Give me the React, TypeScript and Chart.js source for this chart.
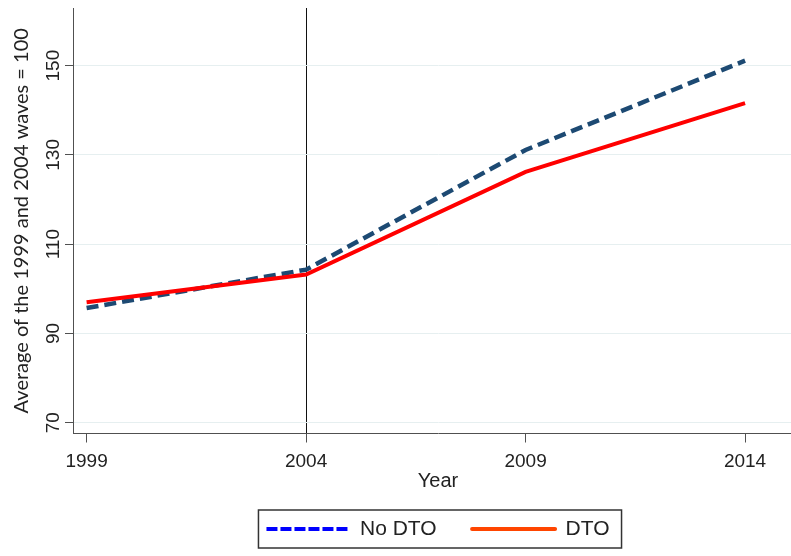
import React, { useEffect, useRef } from 'react';
import { Chart, registerables } from 'chart.js';

Chart.register(...registerables);

const years = [1999, 2004, 2009, 2014];
const noDto = [95.7, 104.3, 131.1, 151.1];
const dto = [97.0, 103.2, 126.2, 141.6];
const yTicks = [70, 90, 110, 130, 150];
const xTicks = [1999, 2004, 2009, 2014];
const seriesLabels = ['No DTO', 'DTO'];
const referenceYear = 2004;
const yTitle = 'Average of the 1999 and 2004 waves = 100';
const xTitle = 'Year';

const legendFrame = {
  id: 'legendFrame',
  afterDraw(chart: any) {
    const hb = chart.legend && chart.legend.legendHitBoxes;
    if (!hb || !hb.length) return;
    const ctx = chart.ctx;
    const l = Math.min(...hb.map((h: any) => h.left)) - 8;
    const r = Math.max(...hb.map((h: any) => h.left + h.width)) + 12;
    const t = Math.min(...hb.map((h: any) => h.top)) - 8.5;
    const b = Math.max(...hb.map((h: any) => h.top + h.height)) + 8.5;
    ctx.save();
    ctx.strokeStyle = '#333';
    ctx.lineWidth = 1.5;
    ctx.setLineDash([]);
    ctx.strokeRect(l, t, r - l, b - t);
    ctx.restore();
  },
};

export default function App() {
  const ref = useRef<HTMLCanvasElement | null>(null);

  useEffect(() => {
    if (!ref.current) return;
    const axisColor = '#505050';
    const textColor = '#222';
    const chart = new Chart(ref.current, {
      type: 'line',
      data: {
        datasets: [
          {
            label: seriesLabels[0],
            data: years.map((x, i) => ({ x, y: noDto[i] })),
            borderColor: '#1d4a73',
            borderWidth: 4.5,
            borderDash: [12, 6],
            pointRadius: 0,
            tension: 0,
            fill: false,
            order: 1,
          },
          {
            label: seriesLabels[1],
            data: years.map((x, i) => ({ x, y: dto[i] })),
            borderColor: '#ff0000',
            borderWidth: 4,
            pointRadius: 0,
            tension: 0,
            fill: false,
            order: 0,
          },
        ],
      },
      options: {
        animation: false,
        responsive: true,
        maintainAspectRatio: false,
        layout: { padding: { top: 8, bottom: 6.5, left: 0, right: 0 } },
        font: { family: 'Liberation Sans, Arial, sans-serif' } as any,
        plugins: {
          tooltip: { enabled: false },
          legend: {
            position: 'bottom',
            fullSize: false,
            align: 'center',
            labels: {
              usePointStyle: true,
              pointStyleWidth: 83,
              boxHeight: 21,
              padding: 35.5,
              color: textColor,
              font: { size: 21, family: 'Liberation Sans, Arial, sans-serif' },
              generateLabels: () => [
                {
                  text: seriesLabels[0],
                  strokeStyle: '#0000ff',
                  fillStyle: 'rgba(0,0,0,0)',
                  lineWidth: 4,
                  lineDash: [11, 3],
                  lineCap: 'butt',
                  pointStyle: 'line',
                  hidden: false,
                  datasetIndex: 0,
                  fontColor: textColor,
                } as any,
                {
                  text: seriesLabels[1],
                  strokeStyle: '#ff4500',
                  fillStyle: 'rgba(0,0,0,0)',
                  lineWidth: 4,
                  lineDash: [],
                  lineCap: 'round',
                  pointStyle: 'line',
                  hidden: false,
                  datasetIndex: 1,
                  fontColor: textColor,
                } as any,
              ],
            },
          },
        },
        scales: {
          x: {
            type: 'linear',
            min: 1998.69,
            max: 2015.32,
            afterBuildTicks: (s: any) => {
              s.ticks = xTicks.map((v) => ({ value: v }));
            },
            afterFit: (s: any) => {
              s.height = 49.5;
              s.paddingLeft = 0;
              s.paddingRight = 0;
              s.paddingTop = 0;
              s.paddingBottom = 0;
            },
            grid: {
              drawOnChartArea: true,
              color: (c: any) => (c.tick && c.tick.value === referenceYear ? '#111' : 'rgba(0,0,0,0)'),
              tickColor: axisColor,
              tickLength: 9,
              lineWidth: 1,
            },
            border: { display: true, color: axisColor, width: 1 },
            ticks: {
              autoSkip: false,
              maxRotation: 0,
              minRotation: 0,
              padding: 8,
              color: textColor,
              font: { size: 19, family: 'Liberation Sans, Arial, sans-serif' },
              callback: (v: any) => String(v),
            },
            title: {
              display: true,
              text: xTitle,
              color: textColor,
              font: { size: 20, family: 'Liberation Sans, Arial, sans-serif' },
              padding: { top: 0, bottom: -10.5 },
            },
          },
          y: {
            type: 'linear',
            min: 67.6,
            max: 162.9,
            afterBuildTicks: (s: any) => {
              s.ticks = yTicks.map((v) => ({ value: v }));
            },
            afterFit: (s: any) => {
              s.width = 73;
              s.paddingLeft = 0;
              s.paddingRight = 0;
              s.paddingTop = 0;
              s.paddingBottom = 0;
            },
            grid: {
              drawOnChartArea: true,
              color: '#e6eff0',
              tickColor: axisColor,
              tickLength: 8,
              lineWidth: 1,
            },
            border: { display: true, color: axisColor, width: 1 },
            ticks: {
              minRotation: 90,
              maxRotation: 90,
              crossAlign: 'center',
              padding: -4.85,
              color: textColor,
              font: { size: 19, family: 'Liberation Sans, Arial, sans-serif' },
              callback: (v: any) => String(v),
            },
            title: {
              display: true,
              text: yTitle,
              color: textColor,
              font: { size: 20, family: 'Lato, Carlito, sans-serif' },
              padding: { top: 10, bottom: 0 },
            },
          },
        },
      } as any,
      plugins: [legendFrame as any],
    });
    return () => chart.destroy();
  }, []);

  return (
    <div style={{ position: 'fixed', left: 0, top: 0, width: 791, height: 556, overflow: 'hidden', background: '#fff' }}>
      <div style={{ position: 'relative', width: 803, height: 556 }}>
        <canvas ref={ref} />
      </div>
    </div>
  );
}
